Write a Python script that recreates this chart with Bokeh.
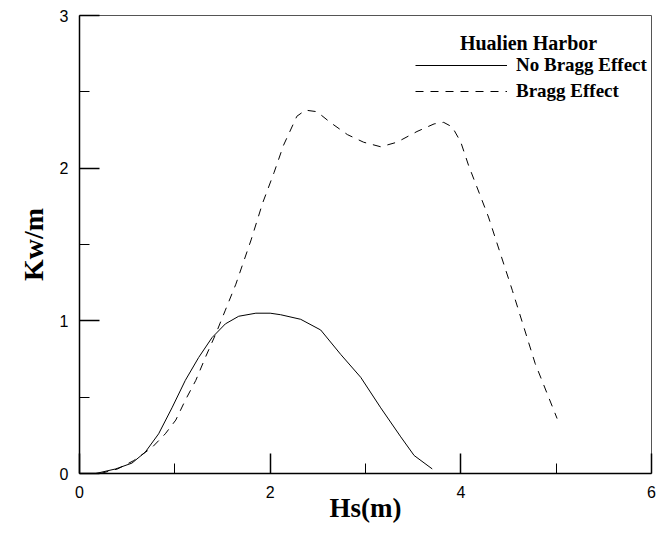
from bokeh.plotting import figure
from bokeh.models import Legend, LegendItem, Label, FixedTicker
from bokeh.embed import file_html
from bokeh.resources import INLINE

# Wave power per metre of crest vs. significant wave height, Hualien Harbor
hs_no_bragg = [0.17, 0.38, 0.55, 0.69, 0.83, 0.97, 1.11, 1.25, 1.39, 1.53, 1.67, 1.85, 2.00,
               2.11, 2.32, 2.53, 2.74, 2.95, 3.16, 3.37, 3.51, 3.70]
kw_no_bragg = [0.00, 0.03, 0.068, 0.14, 0.26, 0.43, 0.61, 0.76, 0.89, 0.98, 1.03, 1.05, 1.05,
               1.04, 1.01, 0.94, 0.78, 0.63, 0.43, 0.24, 0.118, 0.03]

hs_bragg = [0.22, 0.40, 0.57, 0.76, 0.90, 1.01, 1.11, 1.22, 1.32, 1.43, 1.53, 1.64, 1.80, 1.92,
            2.04, 2.14, 2.28, 2.37, 2.49, 2.63, 2.81, 2.98, 3.16, 3.33, 3.54, 3.72, 3.82, 3.91,
            4.00, 4.08, 4.29, 4.54, 4.78, 5.01]
kw_bragg = [0.00, 0.03, 0.085, 0.17, 0.26, 0.35, 0.48, 0.61, 0.76, 0.915, 1.07, 1.24, 1.53, 1.77,
            1.97, 2.15, 2.34, 2.38, 2.37, 2.30, 2.22, 2.17, 2.14, 2.17, 2.24, 2.29, 2.30, 2.27,
            2.17, 2.02, 1.68, 1.20, 0.72, 0.36]

x_major = [0, 2, 4, 6]
x_minor = [1, 3, 5]
y_major = [0, 1, 2, 3]
y_minor = [0.5, 1.5, 2.5]

legend_title = "Hualien Harbor"
series_names = ["No Bragg Effect", "Bragg Effect"]

SERIF = "Liberation Serif"
SANS = "Liberation Sans"

p = figure(width=668, height=533, output_backend="svg", toolbar_location=None,
           x_range=(0, 6), y_range=(0, 3))
p.min_border_left = 79
p.min_border_right = 17
p.min_border_top = 15
p.min_border_bottom = 60
p.background_fill_color = "white"
p.border_fill_color = "white"
p.outline_line_color = "#555555"
p.outline_line_width = 1
p.xgrid.visible = False
p.ygrid.visible = False

for ax, major, minor in ((p.xaxis[0], x_major, x_minor), (p.yaxis[0], y_major, y_minor)):
    ax.ticker = FixedTicker(ticks=major, minor_ticks=minor)
    ax.axis_line_color = "black"
    ax.axis_line_width = 1.5
    ax.major_tick_in = 20
    ax.major_tick_out = 0
    ax.minor_tick_in = 10
    ax.minor_tick_out = 0
    ax.major_tick_line_color = "black"
    ax.major_tick_line_width = 1.5
    ax.minor_tick_line_color = "black"
    ax.minor_tick_line_width = 1
    ax.major_label_text_font = SANS
    ax.major_label_text_font_size = "16px"
    ax.major_label_text_color = "black"
    ax.axis_label_text_font = SERIF
    ax.axis_label_text_font_style = "bold"
    ax.axis_label_text_color = "black"

p.xaxis.axis_label = "Hs(m)"
p.xaxis.axis_label_text_font_size = "27px"
p.xaxis.major_label_standoff = 12
p.xaxis.axis_label_standoff = -8

p.yaxis.axis_label = "Kw/m"
p.yaxis.axis_label_text_font_size = "28px"
p.yaxis.major_label_standoff = 11
p.yaxis.axis_label_standoff = 8

r_solid = p.line(hs_no_bragg, kw_no_bragg, line_color="black", line_width=1)
r_dash = p.line(hs_bragg, kw_bragg, line_color="black", line_width=1, line_dash="8 7")

legend = Legend(items=[LegendItem(label=series_names[0], renderers=[r_solid]),
                       LegendItem(label=series_names[1], renderers=[r_dash])],
                location=(336, 371), orientation="vertical",
                glyph_width=92, glyph_height=20, label_height=20, label_standoff=9,
                spacing=4, padding=0, margin=0,
                border_line_color=None, background_fill_alpha=0,
                label_text_font=SERIF, label_text_font_style="bold",
                label_text_font_size="19px", label_text_color="black")
p.add_layout(legend)

p.add_layout(Label(x=4.71, y=2.82, text=legend_title, text_align="center",
                   text_baseline="middle", text_font=SERIF, text_font_style="bold",
                   text_font_size="20px", text_color="black"))

open("out.html", "w").write(file_html(p, INLINE))
